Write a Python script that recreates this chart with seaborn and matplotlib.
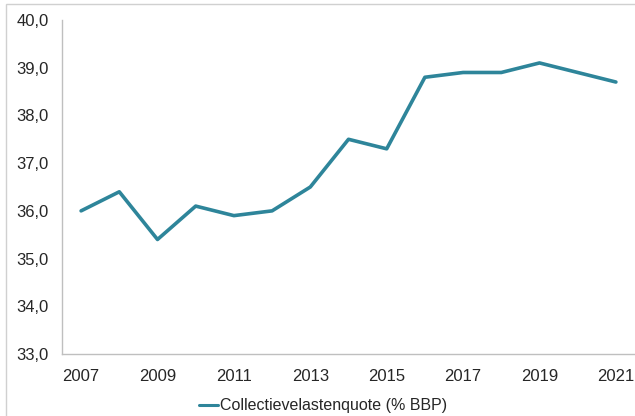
import matplotlib
matplotlib.use("Agg")
import matplotlib.pyplot as plt
import matplotlib.ticker as mticker
import seaborn as sns
import pandas as pd

jaren = list(range(2007, 2022))
quote = [36.0, 36.4, 35.4, 36.1, 35.9, 36.0, 36.5, 37.5, 37.3, 38.8, 38.9, 38.9, 39.1, 38.9, 38.7]
y_ticks = [33, 34, 35, 36, 37, 38, 39, 40]
x_ticks = [2007, 2009, 2011, 2013, 2015, 2017, 2019, 2021]
reeks = "Collectievelastenquote (% BBP)"

df = pd.DataFrame({"Jaar": jaren, "Quote": quote, "Reeks": reeks})

sns.set_style("white")
plt.rcParams["font.family"] = ["Liberation Sans", "DejaVu Sans"]

fig = plt.figure(figsize=(6.35, 4.16), dpi=100)
ax = fig.add_axes([62 / 635, 1 - 354 / 416, 1 - 62 / 635, (354 - 20) / 416])

sns.lineplot(data=df, x="Jaar", y="Quote", hue="Reeks", palette=["#2E859A"],
             linewidth=2.6, ax=ax)

ax.set_xlim(2006.5, 2021.5)
ax.set_ylim(33, 40)
ax.set_xticks(x_ticks)
ax.set_yticks(y_ticks)
ax.yaxis.set_major_formatter(mticker.FuncFormatter(lambda v, p: f"{v:.1f}".replace(".", ",")))
ax.tick_params(axis="both", length=0, labelsize=12, labelcolor="#262626")
ax.tick_params(axis="x", pad=11)
ax.tick_params(axis="y", pad=9.5)
ax.set_xlabel("")
ax.set_ylabel("")

for kant in ["top", "right"]:
    ax.spines[kant].set_visible(False)
for kant in ["left", "bottom"]:
    ax.spines[kant].set_color("#BFBFBF")
    ax.spines[kant].set_linewidth(1.0)

# legenda onder de grafiek
leg = ax.legend(loc="upper center", bbox_to_anchor=(0.455, -0.09), frameon=False,
                fontsize=11.5, handlelength=1.2, handletextpad=0.1)
for lijn in leg.get_lines():
    lijn.set_linewidth(2.2)

# kader rond de figuur
fig.add_artist(plt.Rectangle((6 / 635, -0.01), 1.0, 1 - 4 / 416 + 0.01,
                             transform=fig.transFigure, fill=False,
                             edgecolor="#D0D0D0", linewidth=1.0))

fig.savefig("out.png", dpi=100)
